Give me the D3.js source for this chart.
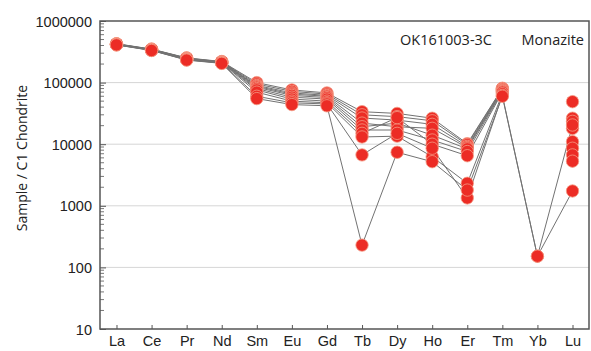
<!DOCTYPE html>
<html>
<head>
<meta charset="utf-8">
<script src="https://cdn.jsdelivr.net/npm/d3@7"></script>
<style>
  html, body { margin: 0; padding: 0; background: #fff; }
  svg { display: block; font-family: "Open Sans", "Noto Sans", sans-serif; }
</style>
</head>
<body>
<svg id="chart" width="591" height="351"></svg>
<script>
// REE elements, chondrite-normalised
const elements = ["La","Ce","Pr","Nd","Sm","Eu","Gd","Tb","Dy","Ho","Er","Tm","Yb","Lu"];
const yTicks = [10, 100, 1000, 10000, 100000, 1000000];
const titleSample = "OK161003-3C";
const titleMineral = "Monazite";

// one array per analysis spot (null = not determined)
const spot1  = [428000, 350000, 252000, 220000, 100000, 76000, 68000, 33700, 31600, 26400, 10200, 81000, null, 49000];
const spot2  = [425000, 348000, 250000, 218000,  95000, 72000, 65000, 30000, 28000, 24000,  9800, 80000, null, 26400];
const spot3  = [423000, 346000, 248000, 216000,  90000, 68000, 62000, 26600, 24600, 21000,  9200, 78000, null, 23500];
const spot4  = [421000, 344000, 245000, 215000,  87000, 65000, 60000, 22000, 19200, 18100,  8800, 76000, null, 18000];
const spot5  = [419000, 342000, 242000, 213000,  84000, 62000, 57000, 19200, 22000, 14000,  8400, 74000, null, 11000];
const spot6  = [417000, 340000, 240000, 212000,  80000, 58000, 54000, 17000, 17000, 11700,  7600, 72000, null,  8600];
const spot7  = [415000, 338000, 238000, 210000,  76000, 54000, 50000, 15000, 27000, 10000,  6500, 70000, null,  6700];
const spot8  = [413000, 336000, 236000, 209000,  70000, 50000, 47000, 13100, 13500,  6260,  2320, 66000, null,  5300];
const spot9  = [411000, 334000, 234000, 207000,  60000, 47000, 45000,  6700, 15000,  8600,  1340, 62000,  152, 20500];
const spot10 = [409000, 332000, 232000, 205000,  55000, 44000, 42000,   230,  7400,  5200,  1800, 60000,  152,  1740];

const spots = [spot1, spot2, spot3, spot4, spot5, spot6, spot7, spot8, spot9, spot10];

const svg = d3.select("#chart");
const margin = { left: 100, right: 2, top: 21, bottom: 22 };
const W = 591, H = 351;
const x0 = margin.left, x1 = W - margin.right, y0 = margin.top, y1 = H - margin.bottom;

const x = d3.scalePoint().domain(elements).range([x0, x1]).padding(0.47);
const y = d3.scaleLog().domain([10, 1000000]).range([y1, y0]);

// horizontal grid at each decade
svg.append("g").selectAll("line")
  .data(yTicks.slice(1, -1))
  .join("line")
  .attr("x1", x0).attr("x2", x1)
  .attr("y1", d => y(d)).attr("y2", d => y(d))
  .attr("stroke", "#d6d6d6").attr("stroke-width", 1);

// y axis with inward ticks, minor ticks per decade
const minor = [];
for (let e = 1; e < 6; e++) for (let m = 2; m <= 9; m++) minor.push(m * Math.pow(10, e));
svg.append("g").selectAll("line")
  .data(minor).join("line")
  .attr("x1", x0).attr("x2", x0 + 4)
  .attr("y1", d => y(d)).attr("y2", d => y(d))
  .attr("stroke", "#555").attr("stroke-width", 0.8);

const yAxis = d3.axisRight(y).tickValues(yTicks).tickFormat(d3.format("d")).tickSize(6).tickPadding(0);
const gy = svg.append("g").attr("transform", `translate(${x0},0)`).call(yAxis);
gy.select(".domain").remove();
gy.selectAll(".tick line").attr("stroke", "#555");
gy.selectAll(".tick text")
  .attr("x", -8).attr("text-anchor", "end").attr("dy", "0.35em")
  .attr("fill", "#222").style("font-size", "14.5px");

// x axis with inward ticks
const xAxis = d3.axisTop(x).tickSize(4).tickPadding(0);
const gx = svg.append("g").attr("transform", `translate(0,${y1})`).call(xAxis);
gx.select(".domain").remove();
gx.selectAll(".tick line").attr("stroke", "#555");
gx.selectAll(".tick text")
  .attr("y", 17).attr("dy", 0).attr("fill", "#222").style("font-size", "14.5px");

// frame
svg.append("rect")
  .attr("x", x0).attr("y", y0).attr("width", x1 - x0).attr("height", y1 - y0)
  .attr("fill", "none").attr("stroke", "#555").attr("stroke-width", 1.5);

// spot profiles
const line = d3.line()
  .defined(d => d != null)
  .x((d, i) => x(elements[i]))
  .y(d => y(d));

svg.append("g").selectAll("path")
  .data(spots).join("path")
  .attr("d", line)
  .attr("fill", "none").attr("stroke", "#727272").attr("stroke-width", 1);

const pts = [];
spots.forEach(s => s.forEach((v, i) => { if (v != null) pts.push({ el: elements[i], v }); }));
svg.append("g").selectAll("circle")
  .data(pts).join("circle")
  .attr("cx", d => x(d.el)).attr("cy", d => y(d.v))
  .attr("r", 6.2)
  .attr("fill", "#ec2c25").attr("stroke", "#f49b84").attr("stroke-width", 0.8);

// title
svg.append("text").attr("x", 400).attr("y", 45)
  .attr("fill", "#222").style("font-size", "14.5px").text(titleSample);
svg.append("text").attr("x", 584).attr("y", 45).attr("text-anchor", "end")
  .attr("fill", "#222").style("font-size", "14.5px").text(titleMineral);

// y label
svg.append("text")
  .attr("transform", `translate(27,158) rotate(-90)`)
  .attr("text-anchor", "middle").attr("fill", "#222")
  .style("font-size", "14px")
  .text("Sample / C1 Chondrite");
</script>
</body>
</html>
